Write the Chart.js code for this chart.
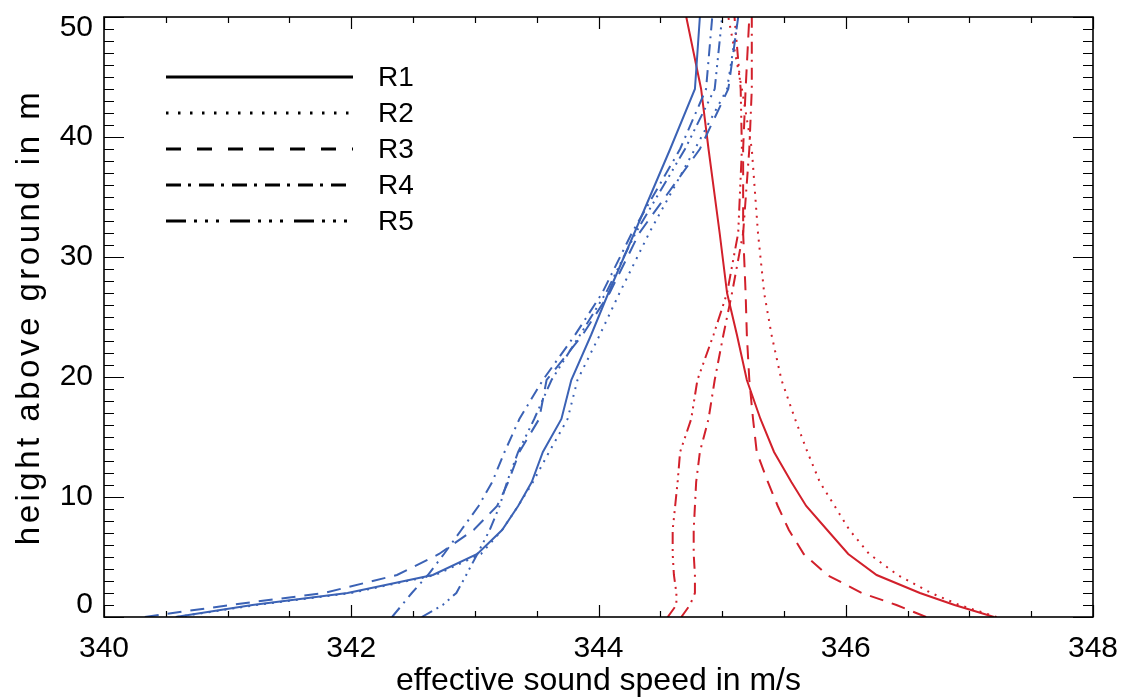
<!DOCTYPE html>
<html>
<head>
<meta charset="utf-8">
<script src="https://cdn.jsdelivr.net/npm/chart.js@4.4.1/dist/chart.umd.min.js"></script>
<style>
  html, body { margin: 0; padding: 0; background: #fff; }
</style>
</head>
<body>
<canvas id="soundChart" width="1130" height="697"></canvas>
<script>
// heights above ground (m), shared by all profiles
const heights = [0, 1, 2, 3.5, 5.25, 7.25, 9.25, 11.25, 13.75, 16.5, 19.75, 23.5, 27, 32, 39, 44, 50]
const seriesNames = ['R1', 'R2', 'R3', 'R4', 'R5']

// effective sound speed (m/s), blue profiles
const blueR1 = [340.58, 341.20, 341.97, 342.66, 343.02, 343.22, 343.35, 343.46, 343.55, 343.70, 343.78, 343.94, 344.08, 344.29, 344.58, 344.78, 344.82]
const blueR2 = [340.59, 341.23, 342.00, 342.68, 343.05, 343.22, 343.35, 343.47, 343.60, 343.75, 343.83, 344.01, 344.17, 344.41, 344.78, 345.04, 345.13]
const blueR3 = [340.33, 341.02, 341.78, 342.37, 342.71, 342.99, 343.18, 343.27, 343.36, 343.52, 343.58, 343.87, 344.09, 344.33, 344.82, 345.05, 345.13]
const blueR4 = [342.33, 342.41, 342.49, 342.62, 342.75, 342.89, 343.03, 343.14, 343.24, 343.36, 343.55, 343.81, 344.03, 344.27, 344.66, 344.87, 344.92]
const blueR5 = [342.57, 342.74, 342.85, 342.93, 343.02, 343.12, 343.20, 343.26, 343.35, 343.48, 343.62, 343.85, 344.06, 344.30, 344.70, 344.94, 345.00]

// effective sound speed (m/s), red profiles
const redR1 = [347.20, 346.88, 346.60, 346.25, 346.02, 345.85, 345.68, 345.56, 345.42, 345.31, 345.20, 345.12, 345.04, 344.98, 344.89, 344.83, 344.71]
const redR2 = [347.22, 346.92, 346.69, 346.42, 346.19, 346.03, 345.91, 345.79, 345.69, 345.59, 345.48, 345.40, 345.34, 345.29, 345.24, 345.16, 345.05]
const redR3 = [346.65, 346.41, 346.13, 345.85, 345.66, 345.54, 345.45, 345.37, 345.28, 345.25, 345.22, 345.20, 345.19, 345.17, 345.17, 345.19, 345.22]
const redR4 = [344.67, 344.74, 344.78, 344.78, 344.77, 344.77, 344.78, 344.79, 344.82, 344.89, 344.94, 345.01, 345.08, 345.17, 345.22, 345.24, 345.24]
const redR5 = [344.56, 344.63, 344.63, 344.61, 344.60, 344.60, 344.62, 344.64, 344.66, 344.75, 344.80, 344.93, 345.04, 345.13, 345.16, 345.15, 345.10]

const xTicks = [340, 342, 344, 346, 348]
const yTicks = [0, 10, 20, 30, 40, 50]

const BLUE = '#3b62b5'
const RED = '#d2202b'
const FONT = '"Liberation Sans", Arial, Helvetica, sans-serif'

// solid, dotted, dashed, dash-dot, dash-dot-dot-dot
const dashes = [[], [2, 6], [14, 9], [12, 6, 2, 6], [12, 5, 2, 5, 2, 5, 2, 5]]
const legendDashes = [[], [2.5, 9.5], [15, 16], [15, 7, 3, 8], [20, 8, 3, 8, 3, 8, 3, 11]]

function toPoints(values) {
  return values.map((v, i) => ({ x: v, y: heights[i] }))
}

function makeSet(label, values, color, idx) {
  return {
    label: label,
    data: toPoints(values),
    borderColor: color,
    borderWidth: 2,
    borderDash: dashes[idx],
    pointRadius: 0,
    fill: false,
    tension: 0,
  }
}

const blueSets = [blueR1, blueR2, blueR3, blueR4, blueR5]
const redSets = [redR1, redR2, redR3, redR4, redR5]
const datasets = []
blueSets.forEach((vals, i) => datasets.push(makeSet(seriesNames[i], vals, BLUE, i)))
redSets.forEach((vals, i) => datasets.push(makeSet(seriesNames[i], vals, RED, i)))

// box frame with inward ticks on all four sides
const frameTicks = {
  id: 'frameTicks',
  afterDatasetsDraw(chart) {
    const { ctx, chartArea: a, scales: { x, y } } = chart
    ctx.save()
    ctx.strokeStyle = '#000'
    ctx.lineWidth = 1.2
    ctx.beginPath()
    for (let v = 340; v <= 348.001; v += 0.5) {
      const px = Math.round(x.getPixelForValue(v)) + 0.5
      const len = (v % 2 === 0) ? 12 : 6
      ctx.moveTo(px, a.bottom); ctx.lineTo(px, a.bottom - len)
      ctx.moveTo(px, a.top); ctx.lineTo(px, a.top + len)
    }
    for (let v = 0; v <= 50; v += 1) {
      const py = Math.round(y.getPixelForValue(v)) + 0.5
      const len = (v % 10 === 0) ? 20 : 10
      ctx.moveTo(a.left, py); ctx.lineTo(a.left + len, py)
      ctx.moveTo(a.right, py); ctx.lineTo(a.right - len, py)
    }
    ctx.stroke()
    ctx.lineWidth = 1.6
    ctx.strokeRect(a.left, a.top, a.right - a.left, a.bottom - a.top)
    ctx.restore()
  }
}

// line-style legend in the upper left of the plot
const styleLegend = {
  id: 'styleLegend',
  afterDatasetsDraw(chart) {
    const { ctx, chartArea: a } = chart
    ctx.save()
    ctx.font = '28px ' + FONT
    ctx.textBaseline = 'middle'
    ctx.fillStyle = '#000'
    seriesNames.forEach((name, i) => {
      const yy = a.top + 60 + i * 36
      ctx.strokeStyle = '#000'
      ctx.lineWidth = 3
      ctx.setLineDash(legendDashes[i])
      ctx.beginPath()
      ctx.moveTo(a.left + 62, yy)
      ctx.lineTo(a.left + 249, yy)
      ctx.stroke()
      ctx.setLineDash([])
      ctx.fillText(name, a.left + 274, yy + 1)
    })
    ctx.restore()
  }
}

// y axis title, stretched along the full height as in the original
const yTitle = {
  id: 'yTitle',
  afterDraw(chart) {
    const { ctx, chartArea: a } = chart
    ctx.save()
    ctx.translate(30, (a.top + a.bottom) / 2)
    ctx.rotate(-Math.PI / 2)
    ctx.font = '33px ' + FONT
    ctx.letterSpacing = '3.5px'
    ctx.textAlign = 'center'
    ctx.textBaseline = 'middle'
    ctx.fillStyle = '#000'
    ctx.fillText('height above ground in m', 0, 0)
    ctx.restore()
  }
}

// pull the end labels of the y axis inward, as in the original
const yEndLabels = {
  id: 'yEndLabels',
  beforeDraw(chart) {
    const items = chart.scales.y.getLabelItems()
    items.forEach(it => {
      if (it._moved) return
      if (it.label === '0') it.options.translation[1] -= 12
      if (it.label === '50') it.options.translation[1] += 11
      it._moved = true
    })
  }
}

new Chart(document.getElementById('soundChart'), {
  type: 'line',
  data: { datasets: datasets },
  options: {
    responsive: false,
    animation: false,
    layout: { padding: { left: 0, right: 37, top: 17, bottom: 0 } },
    scales: {
      x: {
        type: 'linear',
        min: 340,
        max: 348,
        afterFit: (scale) => { scale.height = 80; scale.paddingLeft = 0; scale.paddingRight = 0 },
        afterBuildTicks: (scale) => { scale.ticks = xTicks.map(v => ({ value: v })) },
        grid: { display: false, drawTicks: false },
        border: { display: false },
        ticks: {
          color: '#000',
          padding: 14,
          maxRotation: 0,
          font: { size: 30, family: FONT },
        },
        title: {
          display: true,
          text: 'effective sound speed in m/s',
          color: '#000',
          font: { size: 32, family: FONT },
          padding: { top: 0, bottom: -3 },
        },
      },
      y: {
        type: 'linear',
        min: 0,
        max: 50,
        afterFit: (scale) => { scale.width = 104; scale.paddingTop = 0; scale.paddingBottom = 0 },
        afterBuildTicks: (scale) => { scale.ticks = yTicks.map(v => ({ value: v })) },
        grid: { display: false, drawTicks: false },
        border: { display: false },
        ticks: {
          color: '#000',
          padding: 11,
          font: { size: 30, family: FONT },
        },
        title: { display: false },
      },
    },
    plugins: {
      legend: { display: false },
      tooltip: { enabled: false },
    },
  },
  plugins: [yEndLabels, frameTicks, styleLegend, yTitle],
})
</script>
</body>
</html>
